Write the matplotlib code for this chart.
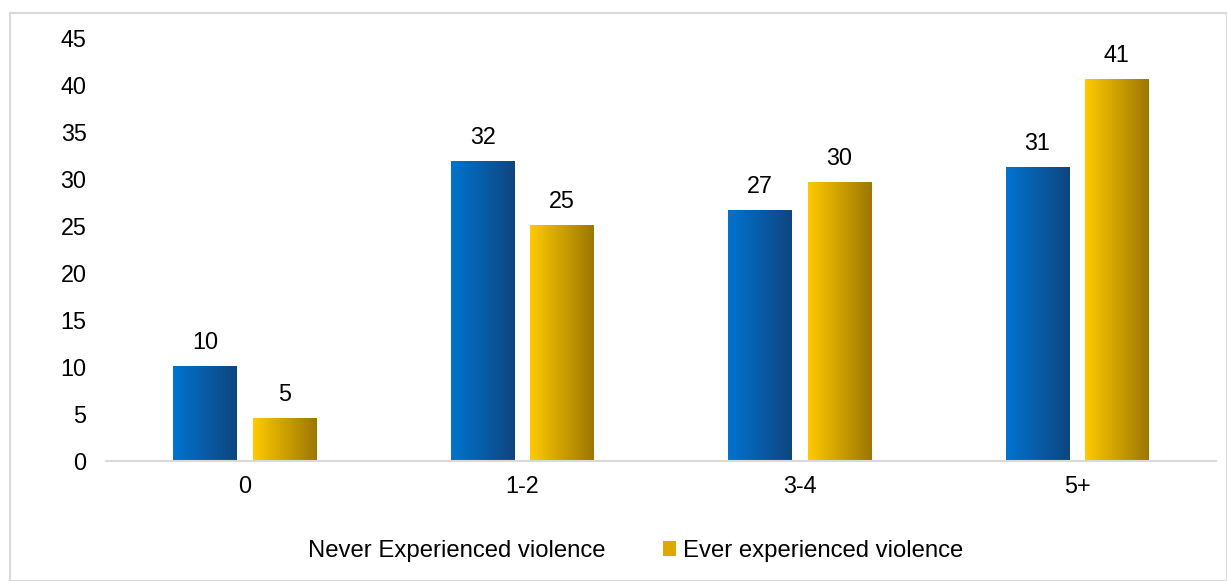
import matplotlib.pyplot as plt
import numpy as np
from matplotlib.colors import LinearSegmentedColormap
from matplotlib.patches import Rectangle

plt.rcParams['font.family'] = ['Liberation Sans', 'DejaVu Sans']

categories = ['0', '1-2', '3-4', '5+']
never = [10.1, 31.9, 26.7, 31.3]
ever = [4.6, 25.1, 29.7, 40.6]
never_labels = ['10', '32', '27', '31']
ever_labels = ['5', '25', '30', '41']

blue_cmap = LinearSegmentedColormap.from_list('blue', ['#0074D0', '#0F4580'])
gold_cmap = LinearSegmentedColormap.from_list('gold', ['#FFCA00', '#9C7600'])

fig = plt.figure(figsize=(12.27, 5.81), dpi=100)
fig.patches.append(Rectangle((10 / 1227, 0), 1 - 10 / 1227, 1 - 13 / 581,
                             transform=fig.transFigure, fill=False,
                             edgecolor='#D9D9D9', linewidth=1.5))
ax = fig.add_axes([106 / 1227, 1 - 461 / 581, 1110 / 1227, (461 - 38) / 581])

x = np.arange(len(categories))
w = 0.23
off = 0.143
grad = np.linspace(0, 1, 256).reshape(1, -1)


def gradient_bars(xs, vals, cmap):
    bars = ax.bar(xs, vals, w, color='none', edgecolor='none')
    for b in bars:
        x0, y0 = b.get_x(), b.get_y()
        im = ax.imshow(grad, cmap=cmap, aspect='auto', zorder=2,
                       extent=[x0, x0 + b.get_width(), y0, y0 + b.get_height()])
        im.set_clip_path(b)
    return bars


gradient_bars(x - off, never, blue_cmap)
gradient_bars(x + off, ever, gold_cmap)

fs = 16.8
for i in range(len(categories)):
    ax.text(x[i] - off, never[i] + 1.3, never_labels[i], ha='center', va='bottom', fontsize=fs)
    ax.text(x[i] + off, ever[i] + 1.3, ever_labels[i], ha='center', va='bottom', fontsize=fs)

ax.set_xlim(-0.5, 3.5)
ax.set_ylim(0, 45)
ax.set_yticks(range(0, 46, 5))
ax.set_xticks(x)
ax.set_xticklabels(categories)
ax.tick_params(axis='both', length=0, labelsize=fs)
ax.tick_params(axis='y', pad=14)
ax.tick_params(axis='x', pad=10)
for s in ['top', 'right', 'left']:
    ax.spines[s].set_visible(False)
ax.spines['bottom'].set_color('#D9D9D9')
ax.spines['bottom'].set_linewidth(1.5)

h1 = Rectangle((0, 0), 1, 1, facecolor='none', edgecolor='none')
h2 = Rectangle((0, 0), 1, 1, facecolor='#DDA800', edgecolor='none')
fig.legend([h1, h2], ['Never Experienced violence', 'Ever experienced violence'],
           loc='center', bbox_to_anchor=(0.51, 1 - 551 / 581), ncol=2, frameon=False,
           fontsize=17.2, handlelength=0.55, handleheight=0.55, handletextpad=0.3,
           columnspacing=2.4)

fig.savefig('out.png', dpi=100)
